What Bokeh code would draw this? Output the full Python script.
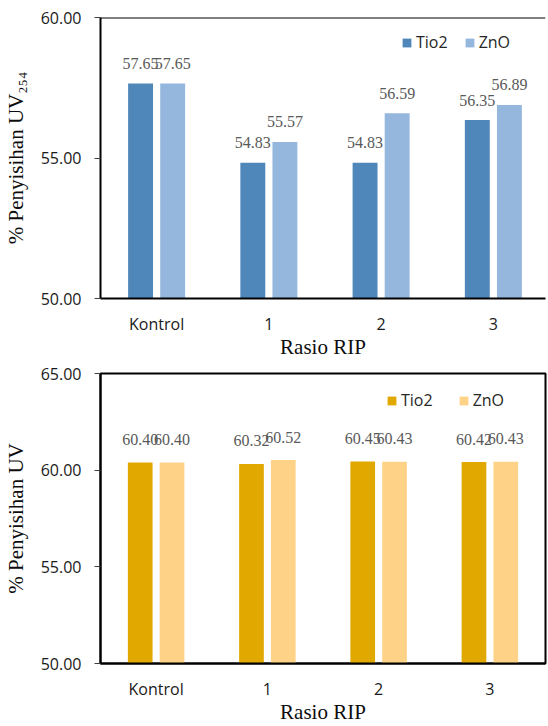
from bokeh.plotting import figure
from bokeh.layouts import column
from bokeh.models import (ColumnDataSource, Range1d, FixedTicker, NumeralTickFormatter,
                          Legend, LegendItem, LabelSet, Span)
from bokeh.embed import file_html
from bokeh.resources import INLINE

# Removal percentages per RIP ratio
categories = ["Kontrol", "1", "2", "3"]
series_names = ["Tio2", "ZnO"]
uv254_tio2 = [57.65, 54.83, 54.83, 56.35]
uv254_zno = [57.65, 55.57, 56.59, 56.89]
uv_tio2 = [60.40, 60.32, 60.45, 60.42]
uv_zno = [60.40, 60.52, 60.43, 60.43]

SANS = "Open Sans"
SERIF = "Liberation Serif"

BAR_W = 0.222
DODGE = 0.143


def make_panel(tio2, zno, colors, y_lo, y_hi, y_ticks, y_title, height,
               border_left, border_top, border_bottom, border_right,
               x_end, legend_loc, legend_spacing, show_outline, label_offset):
    p = figure(width=548, height=height, output_backend="svg", toolbar_location=None,
               x_range=Range1d(0, x_end), y_range=Range1d(y_lo, y_hi),
               min_border_left=border_left, min_border_top=border_top,
               min_border_bottom=border_bottom, min_border_right=border_right)
    p.background_fill_color = "white"
    p.border_fill_color = "white"
    p.xgrid.visible = False
    p.ygrid.visible = False
    if show_outline:
        p.outline_line_color = "black"
        p.outline_line_width = 2
    else:
        p.outline_line_color = None
        p.add_layout(Span(location=y_hi, dimension="width", line_color="black", line_width=2))

    centers = [i + 0.5 for i in range(len(categories))]
    renderers = []
    for k, (vals, col) in enumerate(zip([tio2, zno], colors)):
        xs = [c + (-DODGE if k == 0 else DODGE) for c in centers]
        src = ColumnDataSource(dict(x=xs, top=vals, bottom=[y_lo] * len(vals),
                                    lbl=[f"{v:.2f}" for v in vals]))
        r = p.vbar(x="x", top="top", bottom="bottom", width=BAR_W, source=src,
                   fill_color=col, line_color=None)
        renderers.append(r)
        p.add_layout(LabelSet(x="x", y="top", text="lbl", source=src, y_offset=label_offset,
                              text_align="center", text_baseline="middle",
                              text_font=SANS, text_font_size="16px", text_color="#595959"))

    # x axis: category names at the group centres
    p.xaxis.ticker = FixedTicker(ticks=centers)
    p.xaxis.major_label_overrides = {c: name for c, name in zip(centers, categories)}
    p.xaxis.major_tick_line_color = None
    p.xaxis.minor_tick_line_color = None
    p.xaxis.axis_line_color = "black"
    p.xaxis.axis_line_width = 2
    p.xaxis.major_label_standoff = 8
    p.xaxis.major_label_text_font = SANS
    p.xaxis.major_label_text_font_size = "16px"
    p.xaxis.major_label_text_color = "#1a1a1a"
    p.xaxis.axis_label = "Rasio RIP"
    p.xaxis.axis_label_text_font = SERIF
    p.xaxis.axis_label_text_font_size = "21px"
    p.xaxis.axis_label_text_font_style = "normal"
    p.xaxis.axis_label_text_color = "#0d0d0d"
    p.xaxis.axis_label_standoff = -3

    # y axis
    p.yaxis.ticker = FixedTicker(ticks=y_ticks)
    p.yaxis.formatter = NumeralTickFormatter(format="0.00")
    p.yaxis.minor_tick_line_color = None
    p.yaxis.major_tick_in = 0
    p.yaxis.major_tick_out = 6
    p.yaxis.major_tick_line_color = "#404040"
    p.yaxis.axis_line_color = "black"
    p.yaxis.axis_line_width = 2
    p.yaxis.major_label_standoff = 13
    p.yaxis.major_label_text_font = SANS
    p.yaxis.major_label_text_font_size = "16px"
    p.yaxis.major_label_text_color = "#1a1a1a"
    p.yaxis.axis_label = y_title
    p.yaxis.axis_label_text_font = SERIF
    p.yaxis.axis_label_text_font_size = "21px"
    p.yaxis.axis_label_text_font_style = "normal"
    p.yaxis.axis_label_text_color = "#0d0d0d"
    p.yaxis.axis_label_standoff = 10

    legend = Legend(items=[LegendItem(label=n, renderers=[r]) for n, r in zip(series_names, renderers)],
                    orientation="horizontal", location=legend_loc,
                    border_line_color=None, background_fill_alpha=0,
                    label_text_font=SANS, label_text_font_size="16px", label_text_color="#262626",
                    glyph_width=11, glyph_height=11, label_standoff=4, spacing=legend_spacing,
                    padding=0, margin=0)
    p.add_layout(legend)
    return p


top = make_panel(uv254_tio2, uv254_zno, ["#4F87BA", "#95B6DD"], 50, 60, [50, 55, 60],
                 "% Penyisihan UV\u2082\u2085\u2084", 362,
                 border_left=100, border_top=17, border_bottom=64, border_right=0,
                 x_end=448 / 113.0, legend_loc=(301, 245), legend_spacing=16,
                 show_outline=False, label_offset=20)

bottom = make_panel(uv_tio2, uv_zno, ["#E1A800", "#FFD387"], 50, 65, [50, 55, 60, 65],
                    "% Penyisihan UV", 364,
                    border_left=91, border_top=11, border_bottom=63, border_right=3,
                    x_end=4, legend_loc=(286, 252), legend_spacing=25,
                    show_outline=True, label_offset=23)

layout = column(top, bottom, spacing=0)
open("out.html", "w").write(file_html(layout, INLINE))
